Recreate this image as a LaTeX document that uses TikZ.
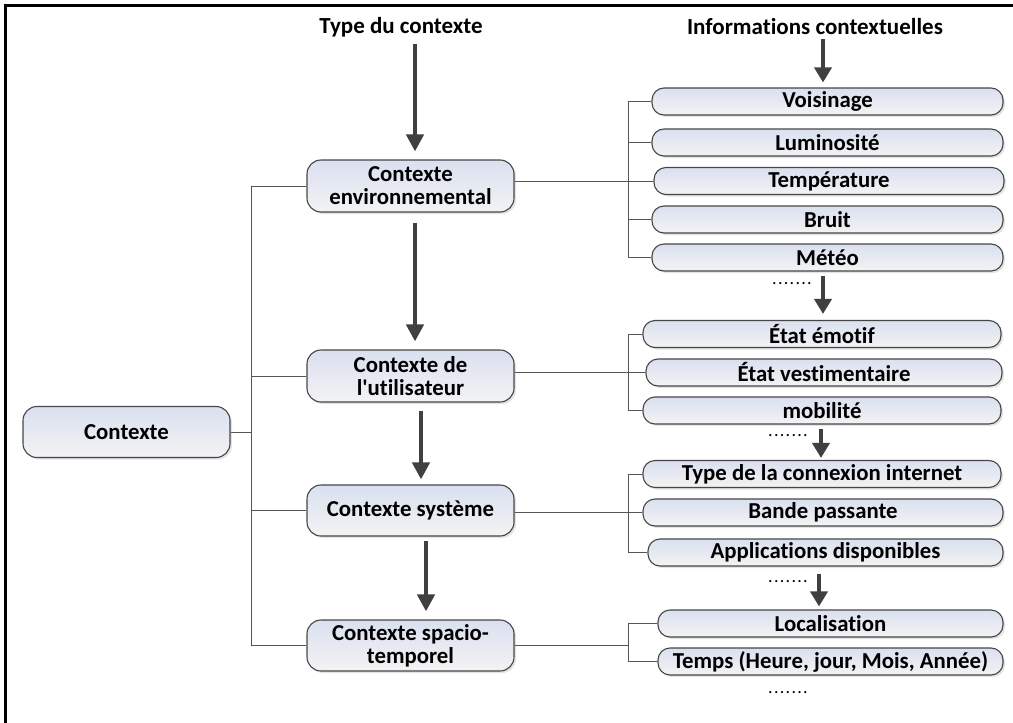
\documentclass[tikz,border=0pt]{standalone}
\usepackage{fontspec}
\setmainfont{Carlito}
\newfontfamily\boxfont{Carlito}[Ligatures=NoCommon]
\usetikzlibrary{shadows,arrows.meta,calc,backgrounds}

\definecolor{boxtop}{RGB}{218,224,240}
\definecolor{boxbot}{RGB}{243,243,243}
\definecolor{boxline}{RGB}{70,70,70}
\definecolor{arrowgray}{RGB}{64,64,64}
\definecolor{conngray}{RGB}{85,85,85}

% a row of seven spaced dots
\newcommand\dotrow{.\kern1.3pt.\kern1.3pt.\kern1.3pt.\kern1.3pt.\kern1.3pt.\kern1.3pt.}

\tikzset{
  box/.style={draw=boxline, line width=1.1pt, top color=boxtop, bottom color=boxbot,
    drop shadow={opacity=0.22, shadow xshift=2pt, shadow yshift=-2pt},
    font=\boxfont\bfseries\fontsize{22.8}{23}\selectfont, align=center, inner sep=0pt},
  ctxbox/.style={box, rounded corners=14pt, minimum width=207pt, minimum height=51pt},
  item/.style={box, rounded corners=12pt, minimum height=27pt},
  header/.style={font=\boxfont\bfseries\fontsize{23}{24}\selectfont, inner sep=0pt},
  dots/.style={font=\boxfont\fontsize{18}{18}\selectfont, inner sep=0pt, anchor=base,
    text height=3pt, text depth=0pt},
  bigarrow/.style={draw=arrowgray, line width=4.5pt,
    -{Triangle[length=17pt,width=17pt]}},
  smallarrow/.style={draw=arrowgray, line width=4pt,
    -{Triangle[length=15pt,width=17pt]}},
  conn/.style={draw=conngray, line width=1pt},
}

\begin{document}
\begin{tikzpicture}[x=1pt,y=-1pt]
\useasboundingbox (0,0) rectangle (1013,723);

% outer frame
\draw[line width=3pt] (5.5,740) -- (5.5,5.5) -- (1030,5.5);

% column headers
\node[header] (hdr1) at (401,27) {Type du contexte};
\node[header] (hdr2) at (815,27) {Informations contextuelles};

% root and context types
\node[ctxbox] (ctx) at (126.5,432) {Contexte};
\node[ctxbox, minimum height=52pt] (env) at (410.5,186) {Contexte\\environnemental};
\node[ctxbox, minimum height=52pt] (usr) at (410.5,376) {Contexte de\\l'utilisateur};
\node[ctxbox] (sys) at (410.5,510.5) {Contexte système};
\node[ctxbox] (spt) at (410.5,645.5) {Contexte spacio-\\temporel};

% environmental information
\node[item, minimum width=351pt] (vois)  at (827.5,101.5) {Voisinage};
\node[item, minimum width=351pt] (lum)   at (827.5,142.5) {Luminosité};
\node[item, minimum width=350pt] (temp)  at (829,181)     {Température};
\node[item, minimum width=351pt] (bruit) at (827.5,219.5) {Bruit};
\node[item, minimum width=351pt] (meteo) at (827.5,257.5) {Météo};
\node[dots] (d1) at (792,284) {\dotrow};

% user information
\node[item, minimum width=358pt] (emo) at (822,334)   {État émotif};
\node[item, minimum width=356pt] (ves) at (824,372.5) {État vestimentaire};
\node[item, minimum width=358pt] (mob) at (822,410.5) {mobilité};
\node[dots] (d2) at (788,436) {\dotrow};

% system information
\node[item, minimum width=358pt] (type)  at (822,474)     {Type de la connexion internet};
\node[item, minimum width=360pt] (bande) at (823,512.5)   {Bande passante};
\node[item, minimum width=355pt] (app)   at (825.5,552.5) {Applications disponibles};
\node[dots] (d3) at (788,582) {\dotrow};

% spatio-temporal information
\node[item, minimum width=345pt] (loc)   at (830.5,623.5) {Localisation};
\node[item, minimum width=345pt] (temps) at (830.5,661.5) {Temps (Heure, jour, Mois, Année)};
\node[dots] (d4) at (788,693) {\dotrow};

% tree connectors
\begin{scope}[on background layer]
  \coordinate (lt) at (251,0);
  \coordinate (rt) at (628,0);
  \draw[conn] (ctx.east) -- (ctx.east -| lt);
  \draw[conn] (env.west) -- (env.west -| lt) -- (spt.west -| lt) -- (spt.west);
  \draw[conn] (usr.west -| lt) -- (usr.west);
  \draw[conn] (sys.west -| lt) -- (sys.west);

  \draw[conn] (vois.west) -- (vois.west -| rt) -- (meteo.west -| rt) -- (meteo.west);
  \draw[conn] (lum.west -| rt) -- (lum.west);
  \draw[conn] (bruit.west -| rt) -- (bruit.west);
  \draw[conn] (env.east |- temp.west) -- (temp.west);

  \draw[conn] (emo.west) -- (emo.west -| rt) -- (mob.west -| rt) -- (mob.west);
  \draw[conn] (usr.east |- ves.west) -- (ves.west);

  \draw[conn] (type.west) -- (type.west -| rt) -- (app.west -| rt) -- (app.west);
  \draw[conn] (sys.east |- bande.west) -- (bande.west);

  \draw[conn] (loc.west) -- (loc.west -| rt) -- (temps.west -| rt) -- (temps.west);
  \draw[conn] (spt.east) -- (spt.east -| rt);
\end{scope}

% flow between context types
\draw[bigarrow, shorten <=7pt, shorten >=8pt]
  ([xshift=4.5pt]env.north |- hdr1.south) -- ([xshift=4.5pt]env.north);
\draw[bigarrow, shorten <=10pt, shorten >=8pt]
  ([xshift=4.5pt]env.south) -- ([xshift=4.5pt]usr.north);
\draw[bigarrow, shorten <=8pt, shorten >=5pt]
  ([xshift=10.5pt]usr.south) -- ([xshift=10.5pt]sys.north);
\draw[bigarrow, shorten <=4pt, shorten >=8pt]
  ([xshift=15.5pt]sys.south) -- ([xshift=15.5pt]spt.north);

% flow between information groups
\draw[smallarrow, shorten <=4pt, shorten >=5pt]
  ([xshift=-4.5pt]vois.north |- hdr2.south) -- ([xshift=-4.5pt]vois.north);
\draw[smallarrow, shorten <=4pt, shorten >=6pt]
  ([xshift=1pt]emo.north |- meteo.south) -- ([xshift=1pt]emo.north);
\draw[smallarrow, shorten <=4pt, shorten >=2pt]
  ([xshift=-1pt]type.north |- mob.south) -- ([xshift=-1pt]type.north);
\draw[smallarrow, shorten <=7pt, shorten >=3pt]
  ([xshift=-3pt]type.north |- app.south) -- ([xshift=-3pt]type.north |- loc.north);
\end{tikzpicture}
\end{document}
